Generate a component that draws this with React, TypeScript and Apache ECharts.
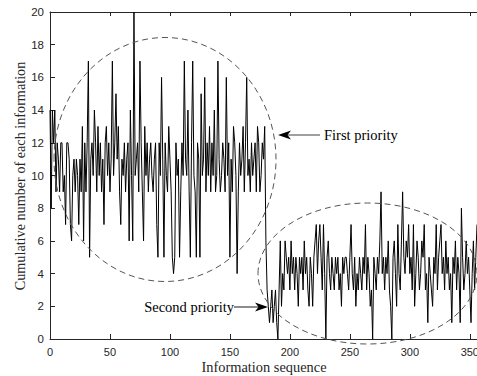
import React, { useEffect, useRef } from "react";
import * as echarts from "echarts";

const firstPriority: number[] = [
  14, 8, 14, 12, 14, 9, 12, 11, 9, 12,
  12, 9, 10, 7, 12, 12, 11, 7, 6, 10,
  11, 9, 11, 10, 7, 11, 9, 13, 6, 12,
  9, 12, 17, 5, 11, 12, 10, 14, 12, 9,
  13, 10, 12, 9, 11, 7, 12, 13, 10, 12,
  9, 11, 17, 10, 12, 15, 11, 13, 9, 7,
  11, 10, 12, 9, 11, 12, 6, 14, 10, 6,
  20, 10, 11, 12, 9, 17, 12, 9, 6, 13,
  10, 12, 9, 11, 12, 10, 9, 11, 12, 7,
  5, 12, 10, 16, 11, 5, 12, 10, 9, 13,
  11, 9, 5, 4, 5, 12, 10, 11, 5, 9,
  12, 10, 17, 11, 10, 14, 9, 5, 12, 17,
  10, 9, 5, 12, 11, 5, 15, 10, 11, 16,
  9, 12, 10, 13, 9, 12, 10, 14, 9, 10,
  17, 11, 9, 10, 12, 11, 9, 16, 10, 12,
  5, 11, 9, 13, 12, 10, 4, 9, 12, 10,
  11, 13, 9, 12, 16, 10, 11, 9, 12, 10,
  11, 12, 9, 13, 12, 9, 10, 12, 11, 13,
];

const secondPriority: number[] = [
  6, 3, 2, 1, 2, 3, 1, 2, 3, 1,
  0, 3, 6, 2, 4, 3, 6, 5, 4, 5,
  3, 6, 4, 5, 3, 5, 4, 2, 5, 4,
  5, 3, 6, 4, 5, 3, 2, 5, 4, 2,
  5, 6, 7, 4, 6, 7, 5, 3, 7, 4,
  0, 5, 6, 4, 3, 5, 4, 3, 5, 4,
  5, 3, 4, 2, 5, 4, 5, 5, 4, 3,
  5, 7, 4, 3, 5, 2, 4, 3, 5, 4,
  3, 5, 4, 7, 3, 5, 4, 2, 3, 0,
  5, 4, 3, 5, 4, 6, 9, 4, 5, 3,
  5, 4, 6, 3, 2, 0, 5, 6, 4, 2,
  7, 4, 3, 6, 9, 5, 4, 6, 5, 7,
  4, 5, 3, 7, 2, 4, 6, 5, 3, 4,
  6, 5, 7, 3, 4, 1, 5, 4, 3, 2,
  5, 4, 7, 3, 5, 6, 7, 4, 5, 3,
  6, 4, 5, 3, 4, 1, 5, 4, 6, 3,
  5, 4, 1, 8, 5, 3, 4, 6, 4, 5,
  3, 1, 4, 6, 3, 5, 7,
];

const yTicks: number[] = [0, 2, 4, 6, 8, 10, 12, 14, 16, 18, 20];
const xTickStep = 50;
const xMax = 356;

const xTitle = "Information sequence";
const yTitle = "Cumulative number of each information";
const labelFirst = "First priority";
const labelSecond = "Second priority";

export default function App() {
  const ref = useRef<HTMLDivElement>(null);
  useEffect(() => {
    if (!ref.current) return;
    const chart = echarts.init(ref.current, undefined, { renderer: "svg" });
    const values = firstPriority.concat(secondPriority);
    const data = values.map((v, i) => [i, v]);
    const axisColor = "#262626";
    const serif = "'Liberation Serif', 'Times New Roman', serif";
    const sans = "'Liberation Sans', Arial, sans-serif";
    const dash = { stroke: "#555", lineWidth: 1, lineDash: [6, 4], fill: "none" } as any;

    chart.setOption({
      animation: false,
      backgroundColor: "#fff",
      grid: { left: 50, top: 12, right: 0, bottom: 37, containLabel: false, outerBoundsMode: "none" },
      xAxis: [
        {
          type: "value",
          min: 0,
          max: xMax,
          interval: xTickStep,
          position: "bottom",
          axisLine: { show: true, onZero: false, lineStyle: { color: axisColor, width: 1 } },
          axisTick: { show: true, inside: true, length: 5, lineStyle: { color: axisColor } },
          axisLabel: { color: axisColor, fontFamily: sans, fontSize: 11, margin: 7, showMaxLabel: false, hideOverlap: false },
          splitLine: { show: false },
        },
        {
          type: "value",
          min: 0,
          max: xMax,
          interval: xTickStep,
          position: "top",
          axisLine: { show: true, onZero: false, lineStyle: { color: axisColor, width: 1 } },
          axisTick: { show: true, inside: true, length: 4, lineStyle: { color: axisColor } },
          axisLabel: { show: false },
          splitLine: { show: false },
        },
      ],
      yAxis: {
        type: "value",
        min: yTicks[0],
        max: yTicks[yTicks.length - 1],
        interval: yTicks[1] - yTicks[0],
        axisLine: { show: true, lineStyle: { color: axisColor, width: 1 } },
        axisTick: { show: true, inside: true, length: 5, lineStyle: { color: axisColor } },
        axisLabel: { color: axisColor, fontFamily: sans, fontSize: 11.5, margin: 6 },
        splitLine: { show: false },
      },
      series: [
        {
          type: "line",
          data,
          showSymbol: false,
          symbol: "none",
          lineStyle: { color: "#000", width: 1 },
          clip: true,
        },
      ],
      graphic: [
        { type: "ellipse", shape: { cx: 165, cy: 159.5, rx: 111, ry: 122 }, style: dash, z: 10 },
        { type: "ellipse", shape: { cx: 367.5, cy: 273.5, rx: 109.5, ry: 70.5 }, style: dash, z: 10 },
        // First priority arrow
        { type: "line", shape: { x1: 320, y1: 135, x2: 286, y2: 135 }, style: { stroke: "#404040", lineWidth: 1.2 }, z: 11 },
        { type: "polygon", shape: { points: [[278, 135], [291, 130.5], [287.5, 135], [291, 139.5]] }, style: { fill: "#000" }, z: 11 },
        {
          type: "text", x: 324, y: 135, z: 11,
          style: { text: labelFirst, font: `14.5px ${serif}`, fill: "#000", textAlign: "left", textVerticalAlign: "middle" },
        },
        // Second priority arrow
        { type: "line", shape: { x1: 234, y1: 307, x2: 260, y2: 307 }, style: { stroke: "#404040", lineWidth: 1.2 }, z: 11 },
        { type: "polygon", shape: { points: [[268, 307], [255, 302.5], [258.5, 307], [255, 311.5]] }, style: { fill: "#000" }, z: 11 },
        {
          type: "text", x: 234, y: 307, z: 11,
          style: { text: labelSecond, font: `14.5px ${serif}`, fill: "#000", textAlign: "right", textVerticalAlign: "middle" },
        },
        // Axis titles
        {
          type: "text", x: 264, y: 367, z: 11,
          style: { text: xTitle, font: `14.4px ${serif}`, fill: axisColor, textAlign: "center", textVerticalAlign: "middle" },
        },
        {
          type: "text", x: 20, y: 176, rotation: Math.PI / 2, z: 11,
          style: { text: yTitle, font: `14.2px ${serif}`, fill: axisColor, textAlign: "center", textVerticalAlign: "middle" },
        },
      ],
    });
    return () => chart.dispose();
  }, []);
  return <div ref={ref} style={{ position: "fixed", left: 0, top: 0, width: 477, height: 376 }} />;
}
